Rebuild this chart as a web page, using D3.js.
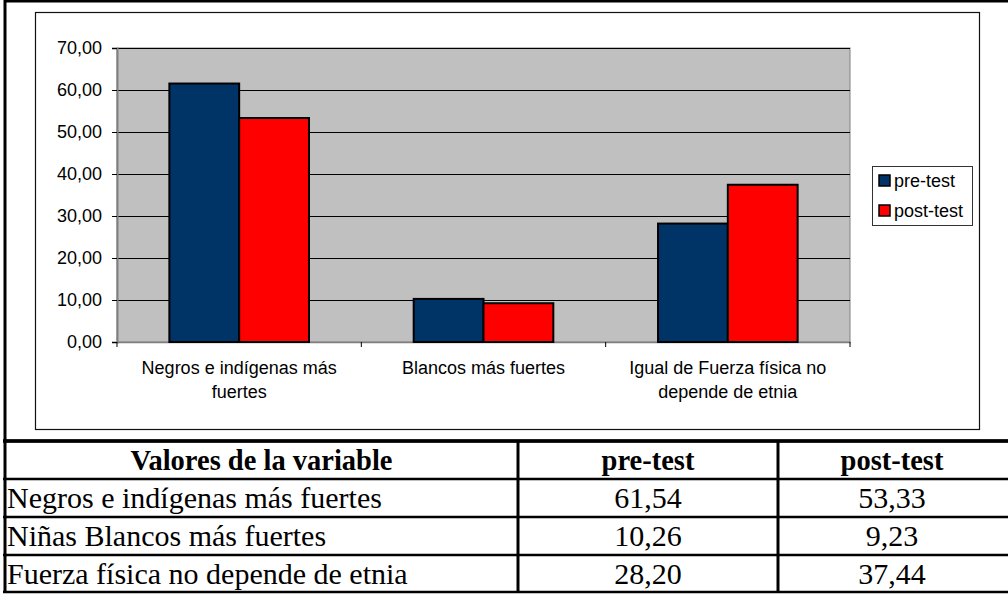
<!DOCTYPE html>
<html>
<head>
<meta charset="utf-8">
<script src="https://cdn.jsdelivr.net/npm/d3@7"></script>
<style>
  body { margin: 0; background: #fff; }
  svg { display: block; }
</style>
</head>
<body>
<svg id="chart" width="1008" height="595"></svg>
<script>
var categories = ["Negros e indígenas más fuertes", "Blancos más fuertes", "Igual de Fuerza física no depende de etnia"];
var series = ["pre-test", "post-test"];
var preTest = [61.54, 10.26, 28.20];
var postTest = [53.33, 9.23, 37.44];
var yTicks = [0, 10, 20, 30, 40, 50, 60, 70];
var colors = ["#003366", "#ff0000"];

var tableHeader = ["Valores de la variable", "pre-test", "post-test"];
var tableRows = ["Negros e indígenas más fuertes", "Niñas Blancos más fuertes", "Fuerza física no depende de etnia"];

var locale = d3.formatLocale({decimal: ",", thousands: ".", grouping: [3], currency: ["", ""]});
var fmt = locale.format(".2f");

var svg = d3.select("#chart"),
    sans = "'Liberation Sans', Arial, sans-serif",
    serif = "'Liberation Serif', 'Times New Roman', serif";

// outer frame + chart box
svg.append("rect")
    .attr("x", 5).attr("y", 1).attr("width", 1010).attr("height", 440)
    .attr("fill", "#fff").attr("stroke", "#000").attr("stroke-width", 3);
svg.append("rect")
    .attr("x", 35.5).attr("y", 12.5).attr("width", 944).attr("height", 417)
    .attr("fill", "#fff").attr("stroke", "#111").attr("stroke-width", 1.2);

var plot = {left: 117, top: 48, right: 850, bottom: 342};

var y = d3.scaleLinear().domain([0, 70]).range([plot.bottom, plot.top]);
var x0 = d3.scaleBand().domain(categories).range([plot.left, plot.right]).padding(0);
var x1 = d3.scaleBand().domain(series).range([0, x0.bandwidth()]).paddingInner(0).paddingOuter(0.75);

svg.append("rect")
    .attr("x", plot.left).attr("y", plot.top)
    .attr("width", plot.right - plot.left).attr("height", plot.bottom - plot.top)
    .attr("fill", "#c0c0c0").attr("stroke", "#808080").attr("stroke-width", 1);

// gridlines
svg.append("g")
    .selectAll("line")
    .data(yTicks.slice(1))
    .enter().append("line")
    .attr("x1", plot.left).attr("x2", plot.right)
    .attr("y1", function(d) { return Math.round(y(d)) + 0.5; })
    .attr("y2", function(d) { return Math.round(y(d)) + 0.5; })
    .attr("stroke", "#000").attr("stroke-width", 1);

// y axis
var yAxis = svg.append("g")
    .attr("transform", "translate(" + plot.left + ",0)")
    .call(d3.axisLeft(y).tickValues(yTicks).tickFormat(fmt).tickSize(5).tickPadding(10));
yAxis.select(".domain").attr("stroke", "#808080").attr("stroke-width", 2);
yAxis.selectAll(".tick line").attr("stroke", "#000");
yAxis.selectAll("text").style("font", "18px " + sans).attr("fill", "#000");

// x axis, ticks at category boundaries
var xAxis = svg.append("g")
    .attr("transform", "translate(0," + plot.bottom + ")")
    .call(d3.axisBottom(x0).tickSize(0).tickFormat(""));
xAxis.select(".domain").attr("stroke", "#808080").attr("stroke-width", 1.5);
xAxis.selectAll(".bound")
    .data(categories.concat([null]))
    .enter().append("line")
    .attr("class", "bound")
    .attr("x1", function(d, i) { return plot.left + i * x0.step(); })
    .attr("x2", function(d, i) { return plot.left + i * x0.step(); })
    .attr("y1", 0).attr("y2", 5)
    .attr("stroke", "#000");

// bars
var groups = svg.append("g")
    .selectAll("g")
    .data(categories)
    .enter().append("g")
    .attr("transform", function(d) { return "translate(" + x0(d) + ",0)"; });

groups.selectAll("rect")
    .data(function(d, i) { return [{s: series[0], v: preTest[i]}, {s: series[1], v: postTest[i]}]; })
    .enter().append("rect")
    .attr("x", function(d) { return x1(d.s); })
    .attr("y", function(d) { return y(d.v); })
    .attr("width", x1.bandwidth())
    .attr("height", function(d) { return y(0) - y(d.v); })
    .attr("fill", function(d, i) { return colors[i]; })
    .attr("stroke", "#000").attr("stroke-width", 2);

// category labels (wrapped)
var catLabels = svg.append("g")
    .selectAll("text")
    .data(categories)
    .enter().append("text")
    .attr("x", function(d) { return x0(d) + x0.bandwidth() / 2; })
    .attr("y", 374)
    .attr("text-anchor", "middle")
    .style("font", "18px " + sans)
    .attr("fill", "#000");

catLabels.each(function(d) {
  var text = d3.select(this), words = d.split(" "), line = [],
      cx = text.attr("x");
  var tspan = text.append("tspan").attr("x", cx).attr("dy", 0);
  words.forEach(function(w) {
    line.push(w);
    tspan.text(line.join(" "));
    if (tspan.node().getComputedTextLength() > 225 && line.length > 1) {
      line.pop();
      tspan.text(line.join(" "));
      line = [w];
      tspan = text.append("tspan").attr("x", cx).attr("dy", "24px").text(w);
    }
  });
});

// legend
var legend = svg.append("g").attr("transform", "translate(872,166)");
legend.append("rect")
    .attr("x", 0.5).attr("y", 0.5).attr("width", 100).attr("height", 59)
    .attr("fill", "#fff").attr("stroke", "#333").attr("stroke-width", 1);
var items = legend.selectAll(".item")
    .data(series)
    .enter().append("g")
    .attr("class", "item")
    .attr("transform", function(d, i) { return "translate(7," + (9 + i * 30) + ")"; });
items.append("rect")
    .attr("width", 11).attr("height", 11)
    .attr("fill", function(d, i) { return colors[i]; })
    .attr("stroke", "#000").attr("stroke-width", 1.5);
items.append("text")
    .attr("x", 15).attr("y", 12)
    .style("font", "18px " + sans)
    .attr("fill", "#000")
    .text(function(d) { return d; });

// data table below the chart
var cols = [5, 518, 778, 1006];
var rowsY = [441, 479, 517, 555, 592];
var table = svg.append("g");

table.selectAll(".hline")
    .data(rowsY)
    .enter().append("line")
    .attr("x1", 3).attr("x2", 1010)
    .attr("y1", function(d) { return d; }).attr("y2", function(d) { return d; })
    .attr("stroke", "#000")
    .attr("stroke-width", function(d, i) { return i == 0 ? 3.5 : 2.5; });

table.selectAll(".vline")
    .data(cols.slice(0, 3))
    .enter().append("line")
    .attr("x1", function(d) { return d; }).attr("x2", function(d) { return d; })
    .attr("y1", rowsY[0]).attr("y2", rowsY[4])
    .attr("stroke", "#000").attr("stroke-width", 3);

table.selectAll(".head")
    .data(tableHeader)
    .enter().append("text")
    .attr("x", function(d, i) { return (cols[i] + cols[i + 1]) / 2; })
    .attr("y", (rowsY[0] + rowsY[1]) / 2)
    .attr("dy", "0.34em")
    .attr("text-anchor", "middle")
    .style("font", "bold 28.5px " + serif)
    .attr("fill", "#000")
    .text(function(d) { return d; });

tableRows.forEach(function(r, i) {
  var cy = (rowsY[i + 1] + rowsY[i + 2]) / 2;
  table.append("text")
      .attr("x", 7).attr("y", cy).attr("dy", "0.34em")
      .style("font", "30px " + serif).attr("fill", "#000")
      .text(r);
  [preTest[i], postTest[i]].forEach(function(v, j) {
    table.append("text")
        .attr("x", (cols[j + 1] + cols[j + 2]) / 2).attr("y", cy).attr("dy", "0.34em")
        .attr("text-anchor", "middle")
        .style("font", "30px " + serif).attr("fill", "#000")
        .text(fmt(v));
  });
});
</script>
</body>
</html>
